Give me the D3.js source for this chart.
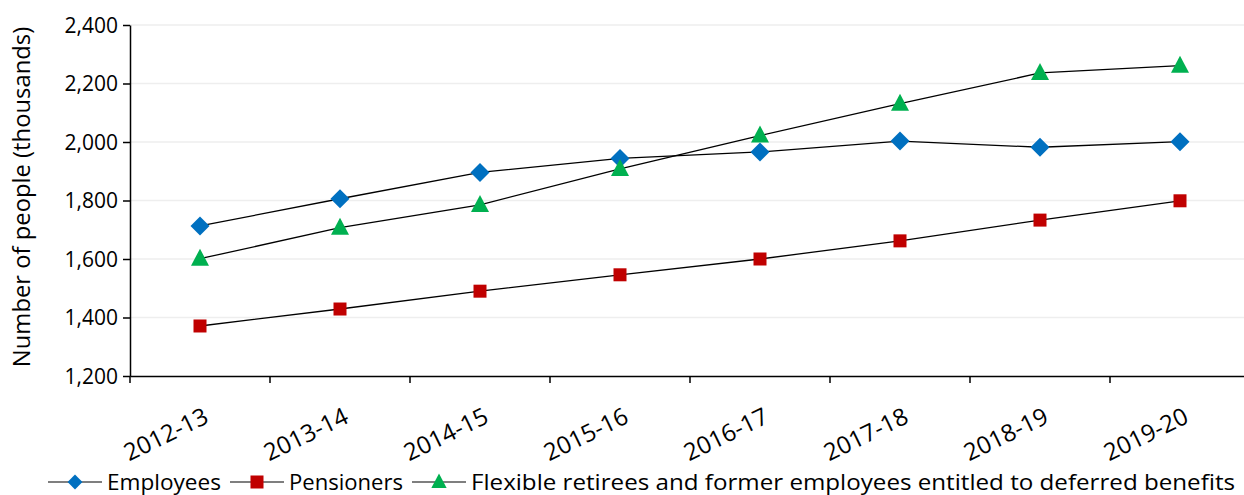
<!DOCTYPE html>
<html><head><meta charset="utf-8">
<script src="https://cdn.jsdelivr.net/npm/d3@7"></script>
<style>body{margin:0;background:#fff}svg{display:block;font-family:"Open Sans","Liberation Sans",sans-serif}</style>
</head><body><svg id="c" width="1244" height="495"></svg>
<script>
const categories = ["2012-13","2013-14","2014-15","2015-16","2016-17","2017-18","2018-19","2019-20"];
const employees = [1713, 1806, 1896, 1944, 1966, 2003, 1982, 2001];
const pensioners = [1371, 1429, 1490, 1546, 1600, 1662, 1733, 1799];
const flexible = [1601, 1707, 1785, 1908, 2022, 2131, 2236, 2261];
const yTicks = [1200, 1400, 1600, 1800, 2000, 2200, 2400];
const seriesNames = ["Employees", "Pensioners", "Flexible retirees and former employees entitled to deferred benefits"];

const svg = d3.select("#c");
const x = d3.scaleBand().domain(categories).range([130, 1250]);
const y = d3.scaleLinear().domain([1200, 2400]).range([376, 25]);
const fmt = d3.format(",");

// gridlines
svg.append("g").selectAll("line").data(yTicks.slice(1)).join("line")
  .attr("x1", 130).attr("x2", 1244).attr("y1", d => y(d)).attr("y2", d => y(d))
  .attr("stroke", "#eeeeee").attr("stroke-width", 1.5);

// y axis
const ya = svg.append("g").attr("transform", "translate(130,0)")
  .call(d3.axisLeft(y).tickValues(yTicks).tickFormat(fmt).tickSize(7).tickSizeOuter(0));
ya.select(".domain").attr("stroke", "#000").attr("stroke-width", 1.5);
ya.selectAll(".tick line").attr("stroke", "#000").attr("stroke-width", 1.5);
ya.selectAll(".tick text").attr("font-size", 21).attr("fill", "#000").attr("x", -12).attr("dy", "0.35em")
  .attr("font-family", "'Open Sans', sans-serif");

// x axis
const xa = svg.append("g").attr("transform", "translate(0,376)")
  .call(d3.axisBottom(x).tickSize(0).tickSizeOuter(0));
xa.select(".domain").attr("stroke", "#000").attr("stroke-width", 1.5);
xa.selectAll(".tick text").remove();
xa.selectAll(".tick line").remove();
const tickPos = categories.map(c => x(c)).concat([x.range()[1]]);
svg.append("g").selectAll("line").data(tickPos).join("line")
  .attr("x1", d => d).attr("x2", d => d).attr("y1", 376).attr("y2", 383)
  .attr("stroke", "#000").attr("stroke-width", 1.5);
svg.append("g").selectAll("text").data(categories).join("text")
  .attr("transform", d => `translate(${x(d) + x.bandwidth()/2 + 10},${422}) rotate(-26)`)
  .attr("text-anchor", "end").attr("font-size", 24).attr("fill", "#000").text(d => d);

// y title
svg.append("text").attr("transform", "translate(30,197) rotate(-90)")
  .attr("text-anchor", "middle").attr("font-size", 23.8).attr("fill", "#000")
  .text("Number of people (thousands)");

const cx = d => x(d) + x.bandwidth() / 2;
const line = d3.line().x(d => cx(d[0])).y(d => y(d[1]));
const series = [
  {name: seriesNames[0], values: employees, color: "#0070C0"},
  {name: seriesNames[1], values: pensioners, color: "#C00000"},
  {name: seriesNames[2], values: flexible, color: "#00B050"}
];
function marker(sel, i, color, k) {
  if (i === 0) sel.append("path").attr("d", `M0,${-9.5*k}L${9.5*k},0L0,${9.5*k}L${-9.5*k},0Z`).attr("fill", color);
  else if (i === 1) sel.append("rect").attr("x", -6.5*k).attr("y", -6.5*k).attr("width", 13*k).attr("height", 13*k).attr("fill", color);
  else sel.append("path").attr("d", `M0,${-10*k}L${9*k},${7*k}L${-9*k},${7*k}Z`).attr("fill", color);
}
series.forEach((s, i) => {
  const pts = categories.map((c, j) => [c, s.values[j]]);
  svg.append("path").attr("d", line(pts)).attr("fill", "none").attr("stroke", "#000").attr("stroke-width", 1.3);
  pts.forEach(p => {
    const g = svg.append("g").attr("transform", `translate(${cx(p[0])},${y(p[1])})`);
    marker(g, i, s.color, 1);
  });
});

// legend
const legX = [48, 230, 412];
const legLen = [114, 114, 764];
const legK = [0.78, 1, 0.85];
series.forEach((s, i) => {
  const g = svg.append("g").attr("transform", `translate(${legX[i]},482)`);
  g.append("line").attr("x1", 0).attr("x2", 54).attr("y1", 0).attr("y2", 0).attr("stroke", "#555").attr("stroke-width", 1.5);
  const m = g.append("g").attr("transform", "translate(27,0)");
  marker(m, i, s.color, legK[i]);
  g.append("text").attr("x", 59).attr("y", 7.5).attr("font-size", 22.5).attr("fill", "#000")
    .attr("textLength", legLen[i]).attr("lengthAdjust", "spacingAndGlyphs").text(s.name);
});
</script></body></html>
